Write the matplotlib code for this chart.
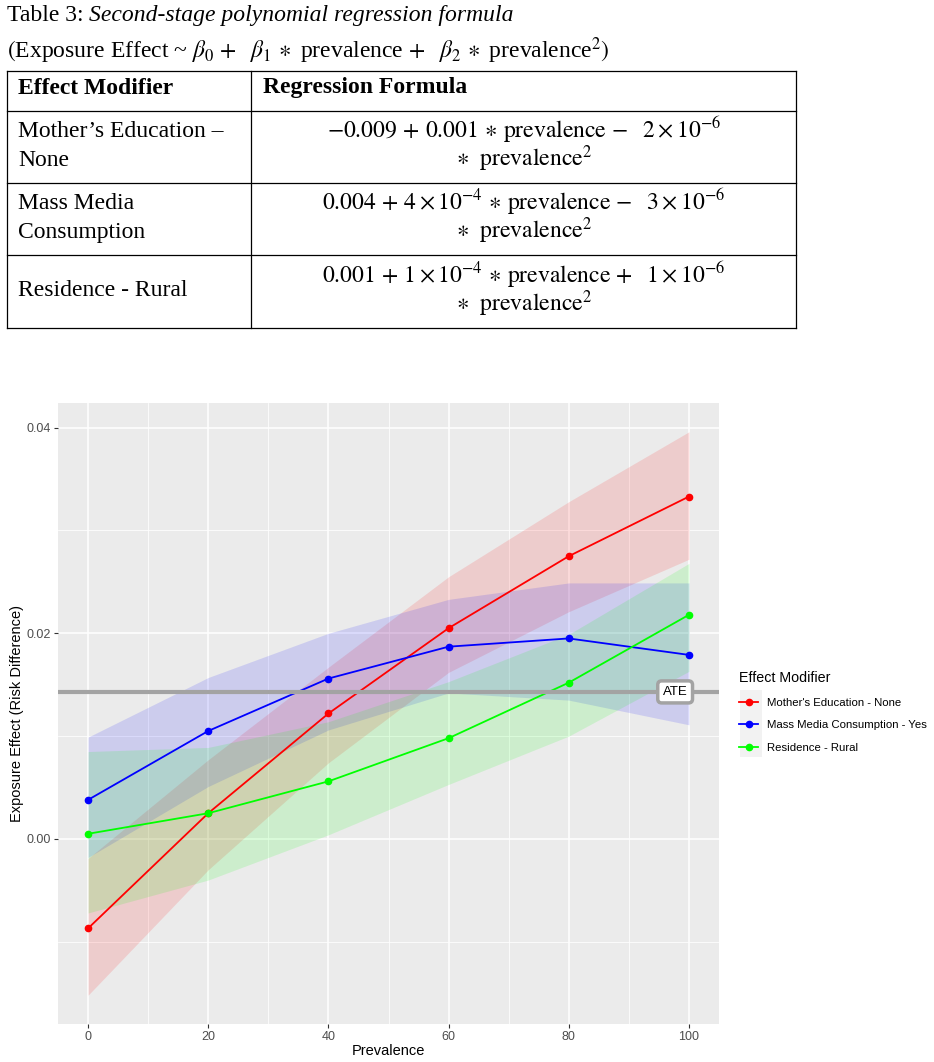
import matplotlib
matplotlib.use("Agg")
import matplotlib.pyplot as plt
from matplotlib.lines import Line2D
from matplotlib.patches import Rectangle

# ---- table text ----
caption_plain = "Table 3: "
caption_italic = "Second-stage polynomial regression formula"
model_formula = (r"$\it{(}$Exposure Effect ~ $\beta_0\,+\ \ \beta_1\,\ast$ prevalence"
                 r"$\,+\ \ \beta_2\,\ast$ prevalence$^2\it{)}$")
table_headers = ["Effect Modifier", "Regression Formula"]
table_modifiers = ["Mother\u2019s Education \u2013\nNone", "Mass Media\nConsumption", "Residence - Rural"]
table_formulas = [
    (r"$-0.009\,+\,0.001\,\ast\,\mathrm{prevalence}\,-\ \ 2\times10^{-6}$", r"$\ast\ \ \mathrm{prevalence}^{2}$"),
    (r"$0.004\,+\,4\times10^{-4}\,\ast\,\mathrm{prevalence}\,-\ \ 3\times10^{-6}$", r"$\ast\ \ \mathrm{prevalence}^{2}$"),
    (r"$0.001\,+\,1\times10^{-4}\,\ast\,\mathrm{prevalence}\,+\ \ 1\times10^{-6}$", r"$\ast\ \ \mathrm{prevalence}^{2}$"),
]

# ---- chart data ----
prevalence = [0, 20, 40, 60, 80, 100]
series_names = ["Mother's Education - None", "Mass Media Consumption - Yes", "Residence - Rural"]
series_colors = ["#FF0000", "#0000FF", "#00FF00"]

edu_est = [-0.0087, 0.0025, 0.0122, 0.0205, 0.0275, 0.0333]
edu_low = [-0.0152, -0.0030, 0.0074, 0.0162, 0.0221, 0.0272]
edu_high = [-0.0019, 0.0077, 0.0167, 0.0255, 0.0328, 0.0396]

media_est = [0.0038, 0.0105, 0.0156, 0.0187, 0.0195, 0.0179]
media_low = [-0.0018, 0.0051, 0.0106, 0.0142, 0.0135, 0.0111]
media_high = [0.0099, 0.0157, 0.0200, 0.0233, 0.0249, 0.0249]

rural_est = [0.0005, 0.0025, 0.0056, 0.0098, 0.0152, 0.0218]
rural_low = [-0.0072, -0.0040, 0.0004, 0.0053, 0.0100, 0.0163]
rural_high = [0.0085, 0.0089, 0.0114, 0.0153, 0.0199, 0.0268]

ate = 0.0143

estimates = [edu_est, media_est, rural_est]
lowers = [edu_low, media_low, rural_low]
uppers = [edu_high, media_high, rural_high]

plt.rcParams['mathtext.fontset'] = 'stix'

W, H = 934, 1062
fig = plt.figure(figsize=(W / 100, H / 100), dpi=100)
fig.patch.set_facecolor("white")

# ---- table drawn in pixel coordinates ----
tab = fig.add_axes([0, 0, 1, 1])
tab.set_xlim(0, W)
tab.set_ylim(H, 0)
tab.axis("off")

serif = "Liberation Serif"
fs = 17
t1 = tab.text(7, 26, caption_plain, fontsize=fs, family=serif, va="bottom", ha="left")
tab.annotate(caption_italic, xy=(1, 0), xycoords=t1, fontsize=fs, family=serif,
             fontstyle="italic", va="bottom", ha="left")
tab.text(7, 66, model_formula, fontsize=fs, family=serif, va="bottom", ha="left")

left, mid, right = 7, 251, 796
row_lines = [71, 111, 183, 255, 328]
for y in row_lines:
    tab.plot([left, right], [y, y], color="black", lw=0.9)
for x in [left, mid, right]:
    tab.plot([x, x], [row_lines[0], row_lines[-1]], color="black", lw=0.9)

tab.text(18, 88, table_headers[0], fontsize=fs, family=serif, fontweight="bold", va="center")
tab.text(263, 88, table_headers[1], fontsize=fs, family=serif, fontweight="bold", va="center")

for i, (mod, (f1, f2)) in enumerate(zip(table_modifiers, table_formulas)):
    top, bot = row_lines[i + 1], row_lines[i + 2]
    cy = (top + bot) / 2
    tab.text(18, cy - 1, mod, fontsize=fs, family=serif, va="center", ha="left", linespacing=1.45)
    tab.text(524, cy - 17, f1, fontsize=fs, va="center", ha="center")
    tab.text(524, cy + 12, f2, fontsize=fs, va="center", ha="center")

# legend key background (grey95 like ggplot)
tab.add_patch(Rectangle((740, 690), 22, 67, facecolor="#F2F2F2", edgecolor="none"))

# ---- chart ----
sans = "Liberation Sans"
ax = fig.add_axes([58 / W, 1 - 1024 / H, (719 - 58) / W, (1024 - 403) / H])
ax.set_facecolor("#EBEBEB")

for lo, hi, c in zip(lowers, uppers, series_colors):
    ax.fill_between(prevalence, lo, hi, color=c, alpha=0.13, lw=0, zorder=2)

for est, c in zip(estimates, series_colors):
    ax.plot(prevalence, est, color=c, lw=1.3, marker="o", ms=4.5, zorder=3)

ax.axhline(ate, color="#A3A3A3", lw=3, zorder=4)
ax.text(97.7, ate, "ATE", fontsize=9.5, family=sans, ha="center", va="center", zorder=5,
        bbox=dict(boxstyle="round,pad=0.38,rounding_size=0.3", fc="white", ec="#A3A3A3", lw=2.5))

ax.set_xlim(-5, 105)
ax.set_ylim(-0.0180, 0.0424)
ax.set_xticks([0, 20, 40, 60, 80, 100])
ax.set_xticks([10, 30, 50, 70, 90], minor=True)
ax.set_yticks([0.0, 0.02, 0.04])
ax.set_yticks([-0.01, 0.01, 0.03], minor=True)
ax.set_yticklabels(["0.00", "0.02", "0.04"])
ax.grid(which="major", color="white", lw=1.1, zorder=0)
ax.grid(which="minor", color="white", lw=0.55, zorder=0)
ax.set_axisbelow(True)
for s in ax.spines.values():
    s.set_visible(False)
ax.tick_params(which="major", length=3, width=0.8, color="#333333", labelsize=9,
               labelcolor="#4D4D4D", pad=2)
ax.tick_params(which="minor", length=0)
for lab in ax.get_xticklabels() + ax.get_yticklabels():
    lab.set_family(sans)
ax.set_xlabel("Prevalence", fontsize=10.5, family=sans, labelpad=1)
ax.set_ylabel("Exposure Effect (Risk Difference)", fontsize=10.5, family=sans, labelpad=2)

# legend
handles = [Line2D([], [], color=c, lw=1.3, marker="o", ms=4.5) for c in series_colors]
leg = ax.legend(handles, series_names, loc="upper left", bbox_to_anchor=(739 / W, 1 - 671 / H),
                bbox_transform=fig.transFigure, frameon=False, title="Effect Modifier",
                prop={"family": sans, "size": 8.2}, handlelength=1.7, handletextpad=0.75,
                labelspacing=1.1, borderaxespad=0, borderpad=0, alignment="left")
leg.get_title().set_fontsize(10.3)
leg.get_title().set_family(sans)

fig.savefig("out.png", dpi=100)
